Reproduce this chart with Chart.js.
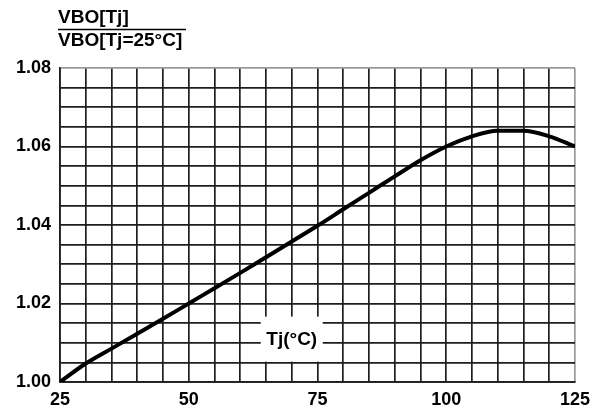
<!DOCTYPE html>
<html>
<head>
<meta charset="utf-8">
<script src="https://cdn.jsdelivr.net/npm/chart.js@4.4.1/dist/chart.umd.min.js"></script>
<style>
  html, body { margin: 0; padding: 0; background: #fff; }
  #wrap { width: 602px; height: 414px; }
</style>
</head>
<body>
<div id="wrap"><canvas id="vboChart" width="602" height="414"></canvas></div>
<script>
// Tj in degrees C, and VBO[Tj] / VBO[Tj=25°C]
const tempC = [25, 30, 35, 40, 45, 50, 55, 60, 65, 70, 75, 80, 85, 90, 95, 100, 105, 110, 115, 120, 125];
const vboRatio = [1.0000, 1.0047, 1.0085, 1.0123, 1.0161, 1.0200, 1.0239, 1.0278, 1.0318, 1.0358,
                  1.0398, 1.0440, 1.0482, 1.0524, 1.0565, 1.0600, 1.0626, 1.0640, 1.0640, 1.0626, 1.0600];

const xTickLabels = [25, 50, 75, 100, 125];
const yTickLabels = [1.00, 1.02, 1.04, 1.06, 1.08];

const FONT = "'Liberation Sans', Arial, sans-serif";

const isLabelled = (list, v) => list.some(t => Math.abs(t - v) < 1e-6);

// color of grid lines, outer edge a bit lighter like the scan
const gridColor = (max) => (c) => {
    const v = c.tick ? c.tick.value : null;
    if (v !== null && Math.abs(v - max) < 1e-6) return "#9a9a9a";
    return "#1e1e1e";
};

// title fraction top-left + "Tj(°C)" label in a white box
const labelsPlugin = {
    id: "labels",
    beforeDatasetsDraw(chart) {
        const { ctx, scales: { x, y } } = chart;
        const cx = x.getPixelForValue(70);
        const cy = y.getPixelForValue(1.0108);
        ctx.save();
        ctx.fillStyle = "#fff";
        ctx.fillRect(cx - 31, cy - 23, 62, 45);
        ctx.fillStyle = "#000";
        ctx.font = "bold 19px " + FONT;
        ctx.textAlign = "center";
        ctx.textBaseline = "middle";
        ctx.fillText("Tj(°C)", cx, cy);
        ctx.restore();
    },
    afterDraw(chart) {
        const { ctx } = chart;
        ctx.save();
        ctx.fillStyle = "#000";
        ctx.font = "bold 19px " + FONT;
        ctx.textAlign = "left";
        ctx.textBaseline = "alphabetic";
        ctx.fillText("VBO[Tj]", 58, 23);
        ctx.fillText("VBO[Tj=25°C]", 58, 46);
        ctx.strokeStyle = "#000";
        ctx.lineWidth = 1.5;
        ctx.beginPath();
        ctx.moveTo(58, 29.5);
        ctx.lineTo(186, 29.5);
        ctx.stroke();
        ctx.restore();
    }
};

new Chart(document.getElementById("vboChart"), {
    type: "line",
    data: {
        labels: tempC,
        datasets: [{
            data: tempC.map((t, i) => ({ x: t, y: vboRatio[i] })),
            borderColor: "#000",
            borderWidth: 4,
            pointRadius: 0,
            fill: false,
            cubicInterpolationMode: "monotone",
        }],
    },
    options: {
        responsive: false,
        animation: false,
        layout: {
            padding: { top: 68, right: 27, left: 0, bottom: 0 },
        },
        plugins: {
            legend: { display: false },
            tooltip: { enabled: false },
        },
        scales: {
            x: {
                type: "linear",
                min: 25,
                max: 125,
                afterFit: (scale) => { scale.height = 32; },
                ticks: {
                    stepSize: 5,
                    autoSkip: false,
                    maxRotation: 0,
                    padding: 7,
                    color: "#000",
                    font: { family: FONT, size: 18, weight: "bold" },
                    callback: (v) => isLabelled(xTickLabels, v) ? String(v) : "",
                },
                grid: {
                    drawTicks: false,
                    color: gridColor(125),
                    lineWidth: 1.7,
                },
                border: { display: true, color: "#1e1e1e", width: 1.7 },
            },
            y: {
                min: 1.00,
                max: 1.08,
                afterFit: (scale) => { scale.width = 60; },
                ticks: {
                    stepSize: 0.005,
                    autoSkip: false,
                    padding: 9,
                    color: "#000",
                    font: { family: FONT, size: 18, weight: "bold" },
                    callback: (v) => isLabelled(yTickLabels, v) ? v.toFixed(2) : "",
                },
                grid: {
                    drawTicks: false,
                    color: gridColor(1.08),
                    lineWidth: 1.7,
                },
                border: { display: true, color: "#1e1e1e", width: 1.7 },
            },
        },
    },
    plugins: [labelsPlugin],
});
</script>
</body>
</html>
